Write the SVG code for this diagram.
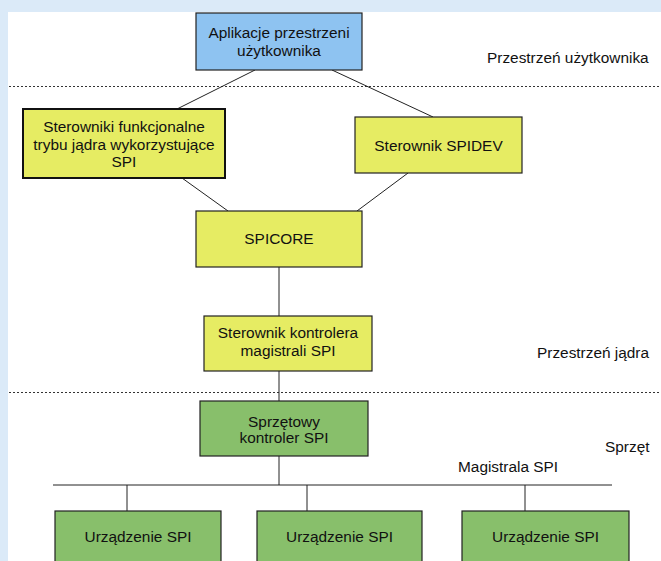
<svg xmlns="http://www.w3.org/2000/svg" width="661" height="561" viewBox="0 0 661 561">
<style>
text{font-family:"Liberation Sans",Arial,sans-serif;font-size:15.4px;fill:#111;text-anchor:middle}
.lbl{text-anchor:start}
.box{stroke:#222;stroke-width:1.2}
.blue{fill:#8ec3f1}
.yel{fill:#e6ec63}
.grn{fill:#88bf6b}
.con{stroke:#222;stroke-width:1;fill:none}
.dot{stroke:#333;stroke-width:1;stroke-dasharray:2,2}
</style>
<rect x="0" y="0" width="661" height="561" fill="#dbeaf8"/>
<rect x="8" y="12" width="653" height="549" fill="#ffffff"/>
<g id="separators">
<line class="dot" x1="9" y1="86.5" x2="661" y2="86.5"/>
<line class="dot" x1="9" y1="392.5" x2="661" y2="392.5"/>
</g>
<g id="connectors">
<line class="con" x1="255" y1="70" x2="177" y2="109"/>
<line class="con" x1="332" y1="70" x2="433" y2="117"/>
<line class="con" x1="182" y1="178" x2="228" y2="211"/>
<line class="con" x1="408" y1="173" x2="357" y2="211"/>
<line class="con" x1="279" y1="267" x2="279" y2="316"/>
<line class="con" x1="279" y1="371" x2="279" y2="401"/>
<line class="con" x1="279" y1="456" x2="279" y2="485"/>
<line class="con" x1="53" y1="485" x2="612" y2="485"/>
<line class="con" x1="127" y1="485" x2="127" y2="511"/>
<line class="con" x1="307" y1="485" x2="307" y2="511"/>
<line class="con" x1="525" y1="485" x2="525" y2="511"/>
</g>
<g id="n-app">
<rect class="box blue" x="196" y="13" width="166" height="57"/>
<text x="279" y="38">Aplikacje przestrzeni</text>
<text x="279" y="56">użytkownika</text>
</g>
<g id="n-funk">
<rect class="yel" x="23" y="109" width="202" height="69" stroke="#111" stroke-width="2"/>
<text x="124" y="132">Sterowniki funkcjonalne</text>
<text x="124" y="149.5">trybu jądra wykorzystujące</text>
<text x="124" y="167">SPI</text>
</g>
<g id="n-spidev">
<rect class="box yel" x="355" y="117" width="167" height="56"/>
<text x="438.5" y="151">Sterownik SPIDEV</text>
</g>
<g id="n-spicore">
<rect class="box yel" x="196" y="211" width="166" height="56"/>
<text x="279" y="244">SPICORE</text>
</g>
<g id="n-ctrl-drv">
<rect class="box yel" x="204" y="316" width="168" height="55"/>
<text x="288" y="338">Sterownik kontrolera</text>
<text x="288" y="356">magistrali SPI</text>
</g>
<g id="n-hw-ctrl">
<rect class="box grn" x="200" y="401" width="168" height="55"/>
<text x="284" y="427">Sprzętowy</text>
<text x="284" y="443">kontroler SPI</text>
</g>
<g id="n-dev1">
<rect class="box grn" x="55" y="511" width="166" height="60"/>
<text x="138" y="542">Urządzenie SPI</text>
</g>
<g id="n-dev2">
<rect class="box grn" x="257" y="511" width="165" height="60"/>
<text x="339.5" y="542">Urządzenie SPI</text>
</g>
<g id="n-dev3">
<rect class="box grn" x="462" y="511" width="167" height="60"/>
<text x="545.5" y="542">Urządzenie SPI</text>
</g>
<g id="labels">
<text class="lbl" x="487" y="63">Przestrzeń użytkownika</text>
<text class="lbl" x="537" y="358">Przestrzeń jądra</text>
<text class="lbl" x="605" y="452">Sprzęt</text>
<text class="lbl" x="458" y="472">Magistrala SPI</text>
</g>
</svg>
